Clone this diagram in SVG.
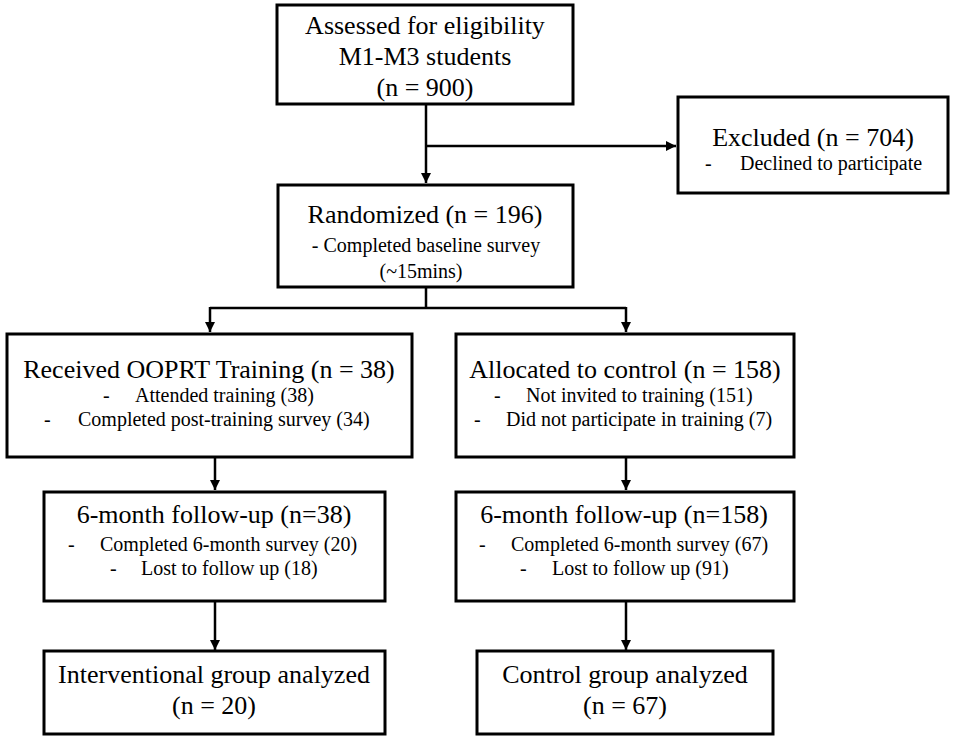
<svg xmlns="http://www.w3.org/2000/svg" width="955" height="739" viewBox="0 0 955 739">
<style>
.box{fill:#fff;stroke:#000;stroke-width:3}
.t{font-family:"Liberation Serif","Times New Roman",serif;font-size:26px;fill:#000}
.s{font-family:"Liberation Serif","Times New Roman",serif;font-size:20px;fill:#000}
.c{text-anchor:middle}
.ln{fill:none;stroke:#000;stroke-width:2.5}
</style>
<defs>
<marker id="ah" viewBox="0 0 10 10" refX="10" refY="5" markerWidth="4" markerHeight="4" orient="auto" markerUnits="strokeWidth">
<path d="M0,0 L10,5 L0,10 z" fill="#000"/>
</marker>
</defs>
<rect width="955" height="739" fill="#fff"/>
<g id="connectors">
<path class="ln" d="M426,104 V183" marker-end="url(#ah)"/>
<path class="ln" d="M426,146 H676" marker-end="url(#ah)"/>
<path class="ln" d="M426,287 V308 M210,308 H626"/>
<path class="ln" d="M210,307 V332" marker-end="url(#ah)"/>
<path class="ln" d="M626,307 V332" marker-end="url(#ah)"/>
<path class="ln" d="M215,457 V490" marker-end="url(#ah)"/>
<path class="ln" d="M626,457 V490" marker-end="url(#ah)"/>
<path class="ln" d="M215,601 V650" marker-end="url(#ah)"/>
<path class="ln" d="M626,601 V650" marker-end="url(#ah)"/>
</g>
<g id="assessed">
<rect class="box" x="277" y="5" width="296" height="99"/>
<text class="t c" x="425" y="34">Assessed for eligibility</text>
<text class="t c" x="425" y="65">M1-M3 students</text>
<text class="t c" x="425" y="96">(n = 900)</text>
</g>
<g id="excluded">
<rect class="box" x="678" y="97" width="270" height="96"/>
<text class="t c" x="813" y="146">Excluded (n = 704)</text>
<text class="s" x="705" y="170">-</text>
<text class="s" x="740" y="170">Declined to participate</text>
</g>
<g id="randomized">
<rect class="box" x="278" y="185" width="295" height="102"/>
<text class="t c" x="425" y="223">Randomized (n = 196)</text>
<text class="s c" x="426" y="252">- Completed baseline survey</text>
<text class="s c" x="421" y="278">(~15mins)</text>
</g>
<g id="received">
<rect class="box" x="7" y="334" width="405" height="123"/>
<text class="t c" x="209" y="378">Received OOPRT Training (n = 38)</text>
<text class="s" x="103" y="402">-</text>
<text class="s" x="135" y="402">Attended training (38)</text>
<text class="s" x="44" y="426">-</text>
<text class="s" x="78" y="426">Completed post-training survey (34)</text>
</g>
<g id="allocated">
<rect class="box" x="456" y="334" width="338" height="123"/>
<text class="t c" x="625" y="378">Allocated to control (n = 158)</text>
<text class="s" x="494" y="402">-</text>
<text class="s" x="526" y="402">Not invited to training (151)</text>
<text class="s" x="474" y="426">-</text>
<text class="s" x="506" y="426">Did not participate in training (7)</text>
</g>
<g id="followup-int">
<rect class="box" x="44" y="492" width="341" height="109"/>
<text class="t c" x="214" y="523">6-month follow-up (n=38)</text>
<text class="s" x="68" y="551">-</text>
<text class="s" x="100" y="551">Completed 6-month survey (20)</text>
<text class="s" x="110" y="575">-</text>
<text class="s" x="141" y="575">Lost to follow up (18)</text>
</g>
<g id="followup-ctl">
<rect class="box" x="456" y="492" width="338" height="109"/>
<text class="t c" x="624" y="523">6-month follow-up (n=158)</text>
<text class="s" x="479" y="551">-</text>
<text class="s" x="511" y="551">Completed 6-month survey (67)</text>
<text class="s" x="520" y="575">-</text>
<text class="s" x="552" y="575">Lost to follow up (91)</text>
</g>
<g id="analyzed-int">
<rect class="box" x="44" y="651" width="341" height="83"/>
<text class="t c" x="214" y="683">Interventional group analyzed</text>
<text class="t c" x="214" y="714">(n = 20)</text>
</g>
<g id="analyzed-ctl">
<rect class="box" x="477" y="651" width="296" height="83"/>
<text class="t c" x="625" y="683">Control group analyzed</text>
<text class="t c" x="625" y="714">(n = 67)</text>
</g>
</svg>
